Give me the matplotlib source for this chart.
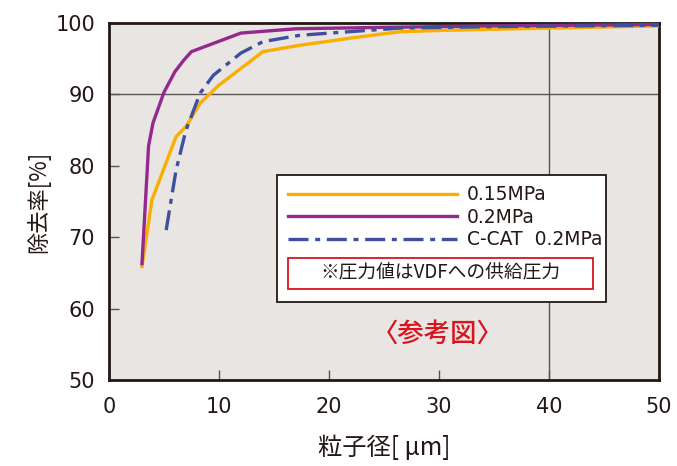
import matplotlib
matplotlib.use("Agg")
import matplotlib.pyplot as plt
from matplotlib.patches import Rectangle

# ---- data ----
x_015 = [3.0, 3.9, 6.1, 7.0, 8.3, 10.0, 14.0, 17.4, 22.0, 26.5, 31.0, 40.0, 50.0]
y_015 = [65.9, 75.2, 84.1, 85.5, 88.8, 91.3, 96.0, 96.9, 97.9, 98.8, 99.0, 99.3, 99.6]

x_02 = [3.0, 3.6, 4.0, 5.0, 6.0, 6.8, 7.5, 12.0, 17.0, 25.0, 35.0, 50.0]
y_02 = [66.3, 82.8, 86.0, 90.3, 93.2, 94.8, 96.0, 98.6, 99.2, 99.4, 99.6, 99.8]

x_ccat = [5.2, 6.1, 7.0, 8.3, 9.5, 12.0, 14.0, 17.4, 26.5, 35.0, 50.0]
y_ccat = [71.0, 79.4, 85.0, 90.2, 92.7, 95.8, 97.4, 98.3, 99.3, 99.5, 99.7]

labels = ["0.15MPa", "0.2MPa", "C-CAT  0.2MPa"]
xticks = [0, 10, 20, 30, 40, 50]
yticks = [50, 60, 70, 80, 90, 100]
xlabel = "粒子径[ μm]"
ylabel = "除去率[%]"
note = "※圧力値はVDFへの供給圧力"
ref = "〈参考図〉"

c_orange = "#F9AE00"
c_purple = "#93288E"
c_blue = "#3F4E9E"
c_dark = "#231815"
c_red = "#D9141E"
bg = "#E9E5E2"

plt.rcParams['font.family'] = ['DejaVu Sans', 'Noto Sans CJK JP']
jp = ['Noto Sans CJK JP', 'DejaVu Sans']

fig = plt.figure(figsize=(6.77, 4.66), dpi=100)
ax = fig.add_axes([0.161, 0.1845, 0.812, 0.766])
ax.set_facecolor(bg)

ax.axhline(90, color="#5a5552", lw=1.0, zorder=1)
ax.axvline(40, color="#5a5552", lw=1.0, zorder=1)

lw = 2.4
l1, = ax.plot(x_015, y_015, color=c_orange, lw=lw, zorder=3)
l2, = ax.plot(x_02, y_02, color=c_purple, lw=lw, zorder=4)
l3, = ax.plot(x_ccat, y_ccat, color=c_blue, lw=lw, zorder=5, dashes=(6.0, 2.0, 1.5, 2.0))

ax.set_xlim(0, 50)
ax.set_ylim(50, 100)
ax.set_xticks(xticks)
ax.set_yticks(yticks)
ax.tick_params(direction='in', length=7, width=1.0, color="#5a5552",
               labelsize=15, labelcolor=c_dark)
ax.tick_params(axis='y', pad=10)
ax.tick_params(axis='x', pad=12)
for s in ax.spines.values():
    s.set_linewidth(2.0)
    s.set_color(c_dark)

ax.set_xlabel(xlabel, family=jp, fontsize=17.5, color=c_dark, labelpad=13)
ax.set_ylabel(ylabel, family=jp, fontsize=16, color=c_dark, labelpad=4)

# legend frame
ax.add_patch(Rectangle((0.305, 0.218), 0.599, 0.356, transform=ax.transAxes,
                       facecolor="white", edgecolor=c_dark, lw=1.3, zorder=6))
leg = ax.legend([l1, l2, l3], labels, loc='upper left',
                bbox_to_anchor=(0.3255, 0.545), frameon=False,
                handlelength=9.0, handletextpad=0.53, labelspacing=0.18,
                fontsize=13.5, borderaxespad=0, borderpad=0)
leg.set_zorder(7)
for t in leg.get_texts():
    t.set_color(c_dark)

ax.add_patch(Rectangle((0.326, 0.255), 0.555, 0.088, transform=ax.transAxes,
                       facecolor="white", edgecolor=c_red, lw=1.3, zorder=8))
ax.text(0.6035, 0.299, note, transform=ax.transAxes, ha='center', va='center',
        family=jp, fontsize=13.5, color=c_dark, zorder=9)

ax.text(0.598, 0.128, ref, transform=ax.transAxes, ha='center', va='center',
        family=jp, fontsize=19, color=c_red, fontweight='medium', zorder=9)

fig.savefig("out.png", dpi=100)
